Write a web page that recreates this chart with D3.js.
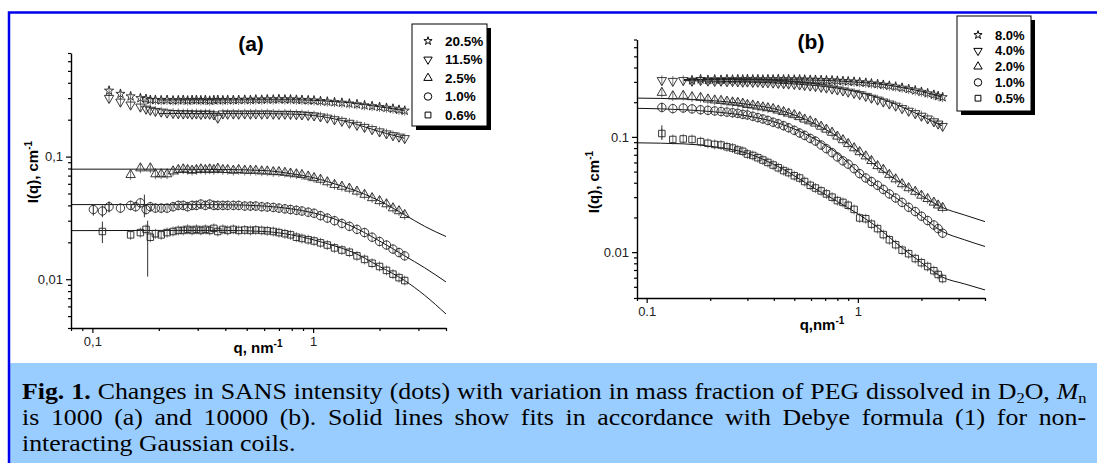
<!DOCTYPE html>
<html>
<head>
<meta charset="utf-8">
<script src="https://cdn.jsdelivr.net/npm/d3@7"></script>
<style>
  body { margin: 0; background: #fff; }
  svg { display: block; }
</style>
</head>
<body>
<script>
// SANS intensity of PEG in D2O, two panels: (a) Mn 1000, (b) Mn 10000

// ---- panel (a) data ----
var qA = [0.101, 0.111, 0.119, 0.134, 0.149, 0.157, 0.165, 0.175, 0.183, 0.193,
	0.205, 0.218, 0.232, 0.245, 0.258, 0.27, 0.283, 0.296, 0.31, 0.325,
	0.34, 0.355, 0.37, 0.39, 0.41, 0.435, 0.46, 0.49, 0.52, 0.55,
	0.585, 0.62, 0.66, 0.7, 0.745, 0.79, 0.84, 0.89, 0.95, 1.01,
	1.08, 1.16, 1.25, 1.35, 1.46, 1.58, 1.71, 1.85, 2.0, 2.15,
	2.3, 2.45, 2.6];

var iA_205 = [null, null, 0.345, 0.325, 0.31, null, 0.30, 0.295, 0.29, 0.29,
	0.288, 0.29, 0.287, 0.288, 0.29, 0.287, 0.289, 0.29, 0.288, 0.29,
	0.286, 0.289, 0.29, 0.288, 0.29, 0.289, 0.29, 0.291, 0.29, 0.292,
	0.291, 0.293, 0.292, 0.294, 0.292, 0.293, 0.291, 0.29, 0.288, 0.287,
	0.284, 0.281, 0.278, 0.275, 0.271, 0.267, 0.262, 0.258, 0.254, 0.25,
	0.246, 0.241, 0.237];
var iA_115 = [null, null, 0.30, 0.28, 0.265, null, 0.255, 0.245, 0.24, 0.235,
	0.232, 0.228, 0.226, 0.225, 0.224, 0.225, 0.223, 0.224, 0.222, 0.224,
	0.223, 0.22, 0.207, 0.224, 0.223, 0.224, 0.223, 0.224, 0.223, 0.224,
	0.223, 0.224, 0.223, 0.222, 0.223, 0.222, 0.221, 0.22, 0.218, 0.216,
	0.212, 0.207, 0.201, 0.195, 0.188, 0.181, 0.174, 0.167, 0.16, 0.154,
	0.149, 0.145, 0.141];
var iA_25 = [null, null, null, null, 0.071, null, 0.0805, null, 0.0805, 0.072,
	0.072, 0.072, 0.076, 0.078, 0.079, 0.078, 0.077, 0.078, 0.079, 0.078,
	0.079, 0.078, 0.08, 0.078, 0.078, 0.077, 0.078, 0.077, 0.077, 0.077,
	0.076, 0.076, 0.075, 0.075, 0.074, 0.073, 0.072, 0.071, 0.069, 0.067,
	0.065, 0.062, 0.059, 0.057, 0.055, 0.052, 0.049, 0.046, 0.0435, 0.041,
	0.038, 0.036, 0.0335];
var iA_10 = [0.037, 0.036, 0.039, 0.038, 0.040, 0.039, 0.042, 0.037, 0.039, 0.038,
	0.038, 0.038, 0.039, 0.040, 0.040, 0.039, 0.040, 0.040, 0.041, 0.040,
	0.041, 0.040, 0.040, 0.040, 0.040, 0.040, 0.040, 0.0395, 0.0395, 0.0395,
	0.039, 0.0388, 0.0385, 0.038, 0.0375, 0.037, 0.0365, 0.036, 0.0352, 0.0345,
	0.033, 0.0315, 0.030, 0.0285, 0.027, 0.0255, 0.024, 0.022, 0.0203, 0.019,
	0.0176, 0.0165, 0.0155];
var iA_06 = [null, 0.0245, null, null, 0.023, null, 0.024, 0.0255, 0.022, 0.0235,
	0.023, 0.024, 0.0245, 0.025, 0.025, 0.0255, 0.025, 0.0255, 0.025, 0.0255,
	0.025, 0.026, 0.0245, 0.0255, 0.025, 0.0255, 0.025, 0.0252, 0.025, 0.0252,
	0.025, 0.0248, 0.0245, 0.024, 0.0235, 0.023, 0.022, 0.0215, 0.021, 0.0205,
	0.0198, 0.019, 0.018, 0.0173, 0.0166, 0.0155, 0.0145, 0.0135, 0.0127, 0.0118,
	0.011, 0.0103, 0.00975];

// Debye fits
var fitQA = [0.08, 0.2, 0.4, 0.6, 0.8, 1.0, 1.25, 1.5, 2.0, 2.6, 3.2, 4.0];
var fitA_205 = [null, 0.29, 0.29, 0.291, 0.291, 0.288, 0.281, 0.274, 0.255, 0.238, null, null];
var fitA_115 = [null, 0.225, 0.224, 0.224, 0.222, 0.217, 0.203, 0.188, 0.16, 0.141, null, null];
var fitA_25 = [0.079, 0.079, 0.0785, 0.077, 0.0725, 0.0675, 0.060, 0.054, 0.0435, 0.0335, 0.027, 0.0223];
var fitA_10 = [0.0406, 0.0406, 0.0405, 0.0395, 0.0375, 0.0348, 0.031, 0.027, 0.0205, 0.0155, 0.0124, 0.0095];
var fitA_06 = [0.0249, 0.025, 0.025, 0.0245, 0.023, 0.021, 0.0187, 0.0167, 0.0127, 0.00975, 0.0074, 0.0052];

// the large error bars (q, low, high)
var errQA = [0.101, 0.111, 0.119, 0.172, 0.111, 0.178];
var errLoA = [0.033, 0.032, 0.035, 0.032, 0.0197, 0.0105];
var errHiA = [0.041, 0.040, 0.043, 0.049, 0.0295, 0.030];

var namesA = ['20.5%', '11.5%', '2.5%', '1.0%', '0.6%'];

// ---- panel (b) data ----
var qB = [0.118, 0.133, 0.149, 0.164, 0.18, 0.195, 0.21, 0.225, 0.24, 0.255,
	0.27, 0.285, 0.30, 0.318, 0.336, 0.355, 0.375, 0.397, 0.42, 0.445,
	0.47, 0.50, 0.53, 0.56, 0.595, 0.63, 0.67, 0.71, 0.755, 0.80,
	0.85, 0.90, 0.96, 1.02, 1.09, 1.16, 1.24, 1.32, 1.41, 1.51,
	1.62, 1.74, 1.87, 2.0, 2.14, 2.29, 2.4, 2.52];

var iB_80 = [null, null, null, 0.31, 0.316, 0.312, 0.315, 0.313, 0.316, 0.314,
	0.316, 0.315, 0.317, 0.315, 0.316, 0.314, 0.316, 0.315, 0.317, 0.315,
	0.316, 0.314, 0.315, 0.314, 0.313, 0.313, 0.311, 0.31, 0.309, 0.307,
	0.305, 0.303, 0.301, 0.298, 0.295, 0.291, 0.287, 0.283, 0.278, 0.273,
	0.267, 0.26, 0.253, 0.246, 0.239, 0.232, 0.226, 0.221];
var iB_40 = [0.31, 0.305, 0.31, 0.306, 0.31, 0.307, 0.305, 0.306, 0.303, 0.304,
	0.302, 0.30, 0.301, 0.299, 0.30, 0.297, 0.297, 0.295, 0.293, 0.291,
	0.289, 0.287, 0.284, 0.281, 0.278, 0.275, 0.271, 0.267, 0.262, 0.257,
	0.252, 0.246, 0.24, 0.234, 0.226, 0.218, 0.21, 0.202, 0.194, 0.186,
	0.177, 0.168, 0.16, 0.152, 0.144, 0.136, 0.13, 0.124];
var iB_20 = [0.242, 0.226, 0.228, 0.222, 0.219, 0.212, 0.208, 0.206, 0.203, 0.2,
	0.198, 0.195, 0.19, 0.188, 0.184, 0.181, 0.178, 0.175, 0.17, 0.165,
	0.16, 0.155, 0.149, 0.142, 0.137, 0.131, 0.123, 0.116, 0.109, 0.101,
	0.094, 0.087, 0.08, 0.074, 0.068, 0.062, 0.056, 0.052, 0.047, 0.043,
	0.039, 0.036, 0.0335, 0.031, 0.029, 0.027, 0.0255, 0.0243];
var iB_10 = [0.18, 0.176, 0.178, 0.175, 0.172, 0.17, 0.168, 0.166, 0.164, 0.162,
	0.16, 0.157, 0.155, 0.151, 0.147, 0.143, 0.139, 0.134, 0.13, 0.125,
	0.12, 0.114, 0.108, 0.103, 0.097, 0.092, 0.085, 0.079, 0.073, 0.067,
	0.062, 0.058, 0.053, 0.048, 0.044, 0.041, 0.038, 0.035, 0.032, 0.0295,
	0.027, 0.0245, 0.0225, 0.0205, 0.0188, 0.0172, 0.016, 0.0146];
var iB_05 = [0.107, 0.095, 0.096, 0.095, 0.091, 0.088, 0.086, 0.085, 0.082, 0.08,
	0.077, 0.075, 0.071, 0.069, 0.066, 0.063, 0.06, 0.057, 0.054, 0.051,
	0.049, 0.046, 0.044, 0.041, 0.038, 0.036, 0.034, 0.032, 0.030, 0.028,
	0.027, 0.0255, 0.0235, 0.0198, 0.0195, 0.0175, 0.016, 0.0142, 0.0128, 0.0116,
	0.0104, 0.0097, 0.0088, 0.0081, 0.0075, 0.0069, 0.0064, 0.0059];

var fitQB = [0.09, 0.15, 0.2, 0.3, 0.43, 0.62, 0.8, 1.0, 1.25, 1.5, 2.0, 2.5, 3.2, 4.0];
var fitB_80 = [null, 0.315, 0.315, 0.315, 0.314, 0.311, 0.306, 0.298, 0.288, 0.275, 0.248, 0.222, null, null];
var fitB_40 = [null, 0.308, 0.305, 0.3, 0.292, 0.28, 0.265, 0.245, 0.219, 0.193, 0.152, 0.125, null, null];
var fitB_20 = [0.217, 0.213, 0.207, 0.192, 0.17, 0.131, 0.101, 0.075, 0.054, 0.043, 0.031, 0.0245, 0.021, 0.0184];
var fitB_10 = [0.177, 0.172, 0.166, 0.152, 0.13, 0.097, 0.072, 0.05, 0.037, 0.03, 0.0205, 0.0152, 0.0128, 0.0112];
var fitB_05 = [0.0888, 0.087, 0.083, 0.072, 0.054, 0.036, 0.0275, 0.0215, 0.0162, 0.0122, 0.0081, 0.0061, 0.0053, 0.0047];

var errQB = [0.118, 0.118];
var errLoB = [0.094, 0.168];
var errHiB = [0.126, 0.195];

var namesB = ['8.0%', '4.0%', '2.0%', '1.0%', '0.5%'];

// ---- drawing ----
var W = 1097, H = 463;
var SANS = '"Liberation Sans", Arial, sans-serif';
var SERIF = '"Liberation Serif", "Times New Roman", serif';

var svg = d3.select('body').append('svg')
	.attr('width', W)
	.attr('height', H);

svg.append('rect').attr('width', W).attr('height', H).attr('fill', '#fff');

// marker shapes: star, down triangle, up triangle, circle, square
var shapes = [
	{ type: d3.symbolStar, size: 26, rot: 0 },
	{ type: d3.symbolTriangle, size: 38, rot: 180 },
	{ type: d3.symbolTriangle, size: 38, rot: 0 },
	{ type: d3.symbolCircle, size: 55, rot: 0 },
	{ type: d3.symbolSquare, size: 42, rot: 0 }
];

function minorTicks(domain){
	var out = [];
	var lo = Math.floor(Math.log10(domain[0])), hi = Math.ceil(Math.log10(domain[1]));
	for (var k = lo; k < hi; k++){
		for (var m = 2; m <= 9; m++){
			var v = m * Math.pow(10, k);
			if (v >= domain[0] * 0.999 && v <= domain[1] * 1.001) out.push(v);
		}
	}
	return out;
}

function drawPanel(p){
	var x = d3.scaleLog().domain(p.xDomain).range(p.xRange);
	var y = d3.scaleLog().domain(p.yDomain).range(p.yRange);
	var g = svg.append('g');

	// fit lines
	var line = d3.line()
		.defined(function(d){ return d[1] != null; })
		.x(function(d){ return x(d[0]); })
		.y(function(d){ return y(d[1]); })
		.curve(d3.curveMonotoneX);
	p.fits.forEach(function(f){
		g.append('path')
			.datum(p.fitQ.map(function(q, i){ return [q, f[i]]; }))
			.attr('d', line)
			.attr('fill', 'none')
			.attr('stroke', '#111')
			.attr('stroke-width', 1);
	});

	// big error bars
	p.errQ.forEach(function(q, i){
		g.append('line')
			.attr('x1', x(q)).attr('x2', x(q))
			.attr('y1', y(p.errLo[i])).attr('y2', y(p.errHi[i]))
			.attr('stroke', '#333').attr('stroke-width', 1);
	});

	// points, each with a short vertical error bar
	p.series.forEach(function(vals, s){
		var pts = [];
		vals.forEach(function(v, i){ if (v != null) pts.push([p.q[i], v]); });
		var sg = g.append('g');
		sg.selectAll('line')
			.data(pts)
			.enter()
			.append('line')
			.attr('x1', function(d){ return x(d[0]); })
			.attr('x2', function(d){ return x(d[0]); })
			.attr('y1', function(d){ return y(d[1]) - 5; })
			.attr('y2', function(d){ return y(d[1]) + 5; })
			.attr('stroke', '#555')
			.attr('stroke-width', 0.8);
		var sym = d3.symbol().type(shapes[s].type).size(shapes[s].size);
		sg.selectAll('path')
			.data(pts)
			.enter()
			.append('path')
			.attr('d', sym)
			.attr('transform', function(d){
				return 'translate(' + x(d[0]) + ',' + y(d[1]) + ') rotate(' + shapes[s].rot + ')';
			})
			.attr('fill', 'none')
			.attr('stroke', '#222')
			.attr('stroke-width', 0.9);
	});

	// axes
	var x0 = p.xRange[0], y0 = p.yRange[0];
	g.append('g').attr('transform', 'translate(0,' + y0 + ')')
		.call(d3.axisBottom(x).tickValues(p.xTicks).tickFormat(function(d, i){ return p.xLabels[i]; })
			.tickSize(5).tickSizeOuter(0).tickPadding(4));
	g.append('g').attr('transform', 'translate(0,' + y0 + ')')
		.call(d3.axisBottom(x).tickValues(minorTicks(p.xDomain)).tickFormat('').tickSize(3).tickSizeOuter(0))
		.select('.domain').remove();
	g.append('g').attr('transform', 'translate(' + x0 + ',0)')
		.call(d3.axisLeft(y).tickValues(p.yTicks).tickFormat(function(d, i){ return p.yLabels[i]; })
			.tickSize(5).tickSizeOuter(0).tickPadding(3));
	g.append('g').attr('transform', 'translate(' + x0 + ',0)')
		.call(d3.axisLeft(y).tickValues(minorTicks(p.yDomain)).tickFormat('').tickSize(3).tickSizeOuter(0))
		.select('.domain').remove();

	g.selectAll('.domain').attr('stroke', '#000').attr('stroke-width', 1.4);
	g.selectAll('.tick line').attr('stroke', '#000').attr('stroke-width', 1.2);
	g.selectAll('.tick text')
		.attr('font-family', SANS)
		.attr('font-size', 13)
		.attr('fill', '#222');

	// axis titles
	var xt = g.append('text')
		.attr('x', p.xTitlePos[0]).attr('y', p.xTitlePos[1])
		.attr('text-anchor', 'middle')
		.attr('font-family', SANS).attr('font-weight', 'bold').attr('font-size', 15);
	xt.append('tspan').text(p.xTitle);
	xt.append('tspan').attr('dy', -6).attr('font-size', 10).text('-1');

	var yt = g.append('text')
		.attr('transform', 'translate(' + p.yTitlePos[0] + ',' + p.yTitlePos[1] + ') rotate(-90)')
		.attr('text-anchor', 'middle')
		.attr('font-family', SANS).attr('font-weight', 'bold').attr('font-size', 15);
	yt.append('tspan').text('I(q), cm');
	yt.append('tspan').attr('dy', -6).attr('font-size', 10).text('-1');

	// panel title
	g.append('text')
		.attr('x', p.titlePos[0]).attr('y', p.titlePos[1])
		.attr('text-anchor', 'middle')
		.attr('font-family', SANS).attr('font-weight', 'bold').attr('font-size', 21)
		.text(p.title);

	// legend with a drop shadow
	var L = p.legend;
	g.append('rect')
		.attr('x', L.x + 4).attr('y', L.y + 4).attr('width', L.w).attr('height', L.h)
		.attr('fill', '#000');
	g.append('rect')
		.attr('x', L.x).attr('y', L.y).attr('width', L.w).attr('height', L.h)
		.attr('fill', '#fff').attr('stroke', '#000').attr('stroke-width', 1);
	p.names.forEach(function(name, s){
		var ry = L.row0 + s * L.step;
		g.append('path')
			.attr('d', d3.symbol().type(shapes[s].type).size(shapes[s].size * 0.8)())
			.attr('transform', 'translate(' + L.sx + ',' + ry + ') rotate(' + shapes[s].rot + ')')
			.attr('fill', 'none').attr('stroke', '#000').attr('stroke-width', 1);
		g.append('text')
			.attr('x', L.tx).attr('y', ry).attr('dy', '0.36em')
			.attr('font-family', SANS).attr('font-weight', 'bold').attr('font-size', L.fs)
			.text(name);
	});
}

drawPanel({
	xDomain: [0.08, 4], xRange: [71, 446],
	yDomain: [0.004, 0.7], yRange: [328, 53],
	xTicks: [0.1, 1], xLabels: ['0,1', '1'],
	yTicks: [0.01, 0.1], yLabels: ['0,01', '0,1'],
	q: qA, series: [iA_205, iA_115, iA_25, iA_10, iA_06],
	fitQ: fitQA, fits: [fitA_205, fitA_115, fitA_25, fitA_10, fitA_06],
	errQ: errQA, errLo: errLoA, errHi: errHiA,
	names: namesA,
	xTitle: 'q, nm', xTitlePos: [258, 353],
	yTitlePos: [38, 172],
	title: '(a)', titlePos: [251, 51],
	legend: { x: 412, y: 24, w: 75, h: 102, sx: 428, tx: 445, row0: 41, step: 18.5, fs: 13.5 }
});

drawPanel({
	xDomain: [0.09, 4], xRange: [637, 985],
	yDomain: [0.004, 0.7], yRange: [298, 39.5],
	xTicks: [0.1, 1], xLabels: ['0.1', '1'],
	yTicks: [0.01, 0.1], yLabels: ['0.01', '0.1'],
	q: qB, series: [iB_80, iB_40, iB_20, iB_10, iB_05],
	fitQ: fitQB, fits: [fitB_80, fitB_40, fitB_20, fitB_10, fitB_05],
	errQ: errQB, errLo: errLoB, errHi: errHiB,
	names: namesB,
	xTitle: 'q,nm', xTitlePos: [822, 330],
	yTitlePos: [599, 182],
	title: '(b)', titlePos: [811, 49],
	legend: { x: 957, y: 16, w: 74, h: 95, sx: 978, tx: 995, row0: 35, step: 15.8, fs: 13 }
});

// ---- caption ----
svg.append('rect')
	.attr('x', 10).attr('y', 363).attr('width', W - 10).attr('height', H - 363)
	.attr('fill', '#99ccff');

// blue frame, top and left edge
svg.append('path')
	.attr('d', 'M9,' + H + 'V12.5H' + W)
	.attr('fill', 'none').attr('stroke', '#0000ee').attr('stroke-width', 2.5);

// the caption face is a bit wider than Liberation Serif, so stretch it slightly
var capX = 22, capRight = 1086, capFs = 23.5, capStretch = 1.1;
var cap = svg.append('g')
	.attr('transform', 'translate(' + capX + ',0) scale(' + capStretch + ',1)')
	.attr('font-family', SERIF)
	.attr('font-size', capFs)
	.attr('fill', '#000');

var l1 = cap.append('text').attr('x', 0).attr('y', 399);
l1.append('tspan').attr('font-weight', 'bold').text('Fig. 1.');
l1.append('tspan').text(' Changes in SANS intensity (dots) with variation in mass fraction of PEG dissolved in D');
l1.append('tspan').attr('font-size', 15).attr('dy', 4).text('2');
l1.append('tspan').attr('dy', -4).text('O, ');
l1.append('tspan').attr('font-style', 'italic').text('M');
l1.append('tspan').attr('font-size', 15).attr('dy', 4).text('n');

var l2 = cap.append('text').attr('x', 0).attr('y', 425)
	.text('is 1000 (a) and 10000 (b). Solid lines show fits in accordance with Debye formula (1) for non-');

cap.append('text').attr('x', 0).attr('y', 451)
	.text('interacting Gaussian coils.');

// justify the two full lines by stretching the word gaps
var lineWidth = (capRight - capX) / capStretch;
[[l1, 16], [l2, 17]].forEach(function(pair){
	var t = pair[0];
	var natural = t.node().getComputedTextLength();
	t.style('word-spacing', ((lineWidth - natural) / pair[1]) + 'px');
});
</script>
</body>
</html>
